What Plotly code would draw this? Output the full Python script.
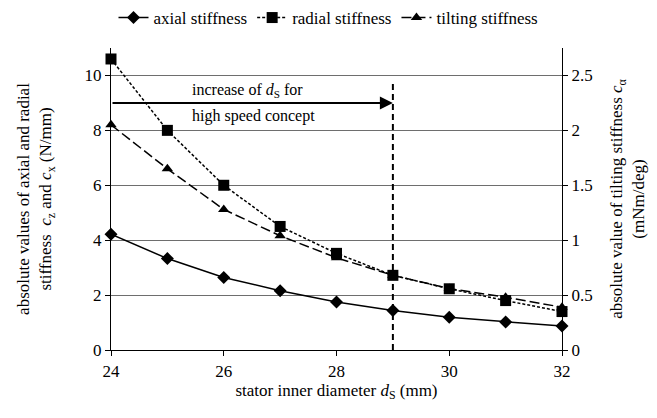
import plotly.graph_objects as go

d_s = [24, 25, 26, 27, 28, 29, 30, 31, 32]
axial = [4.22, 3.33, 2.64, 2.16, 1.75, 1.44, 1.19, 1.02, 0.87]
radial = [10.6, 8.0, 6.0, 4.5, 3.52, 2.72, 2.23, 1.8, 1.4]
tilting = [2.05, 1.65, 1.28, 1.04, 0.84, 0.68, 0.56, 0.48, 0.39]

left_ticks = [0, 2, 4, 6, 8, 10]
right_ticks = [0, 0.5, 1, 1.5, 2, 2.5]
x_ticks = [24, 26, 28, 30, 32]

FONT = "Liberation Serif"
SZ = 17

def f(size=SZ):
    return dict(family=FONT, size=size, color="black")

fig = go.Figure()
fig.add_trace(go.Scatter(
    x=d_s, y=axial, name="axial stiffness", mode="lines+markers",
    line=dict(color="black", width=1.5),
    marker=dict(symbol="diamond", size=10, color="black"),
    cliponaxis=False))
fig.add_trace(go.Scatter(
    x=d_s, y=radial, name="radial stiffness", mode="lines+markers",
    line=dict(color="black", width=1.5, dash="3px,2px"),
    marker=dict(symbol="square", size=11, color="black"),
    cliponaxis=False))
fig.add_trace(go.Scatter(
    x=d_s, y=tilting, name="tilting stiffness", mode="lines+markers",
    line=dict(color="black", width=1.5, dash="10px,4px"),
    marker=dict(symbol="triangle-up", size=10, color="black"),
    yaxis="y2", cliponaxis=False))

# vertical dashed marker line at d_S = 29
fig.add_shape(type="line", x0=29, x1=29, y0=0, y1=9.8, xref="x", yref="y",
              line=dict(color="black", width=2, dash="6px,4px"))

# arrow
fig.add_annotation(x=29, y=9, ax=24, ay=9, xref="x", yref="y", axref="x", ayref="y",
                   text="", showarrow=True, arrowhead=2, arrowsize=1.3, arrowwidth=2,
                   arrowcolor="black")
fig.add_annotation(x=25.4, y=9.47, xref="x", yref="y", xanchor="left", yanchor="middle",
                   text="increase of <i>d</i><sub>S</sub> for", showarrow=False, font=f(16))
fig.add_annotation(x=25.4, y=8.53, xref="x", yref="y", xanchor="left", yanchor="middle",
                   text="high speed concept", showarrow=False, font=f(16))

fig.update_layout(
    font=dict(family=FONT, size=SZ, color="black"),
    width=657, height=418,
    margin=dict(l=111, r=93, t=35, b=68),
    paper_bgcolor="white", plot_bgcolor="white",
    showlegend=True,
    legend=dict(orientation="h", x=0.5, xanchor="center", xref="container",
                y=1.0, yanchor="top", yref="container",
                font=f(), bgcolor="rgba(0,0,0,0)", itemwidth=30),
    xaxis=dict(range=[24, 32], tickvals=x_ticks, showgrid=False, zeroline=False,
               showline=True, linecolor="black", linewidth=1.2,
               ticks="outside", ticklen=5, tickcolor="black", tickfont=f(),
               title=dict(text="stator inner diameter <i>d</i><sub>S</sub> (mm)",
                          font=f(), standoff=4)),
    yaxis=dict(range=[0, 11], tickvals=left_ticks, showgrid=True, gridcolor="#6e6e6e",
               gridwidth=1, zeroline=False, showline=True, linecolor="black", linewidth=1.2,
               ticks="outside", ticklen=5, tickcolor="black", tickfont=f(),
               title=dict(text="absolute values of axial and radial<br>stiffness  <i>c</i><sub>z</sub> and <i>c</i><sub>x</sub> (N/mm)",
                          font=f(), standoff=28)),
    yaxis2=dict(range=[0, 2.75], tickvals=right_ticks, overlaying="y", side="right",
                showgrid=False, zeroline=False, showline=True, linecolor="black",
                linewidth=1.2, ticks="outside", ticklen=5, tickcolor="black", tickfont=f(),
                title=dict(text="absolute value of tilting stiffness <i>c</i><sub>α</sub><br>(mNm/deg)",
                           font=f(), standoff=18)),
)

fig.write_html("out.html")
